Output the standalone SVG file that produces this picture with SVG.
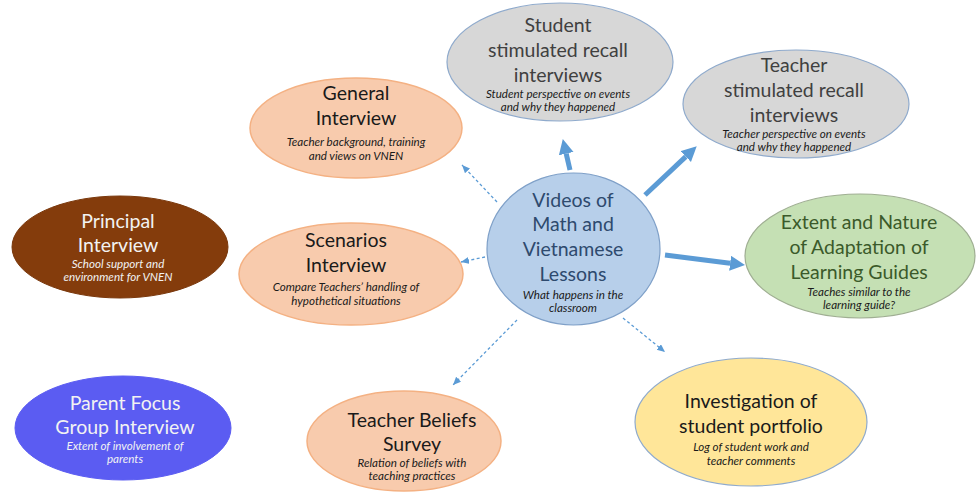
<svg xmlns="http://www.w3.org/2000/svg" width="980" height="499" viewBox="0 0 980 499">
<style>
  text { font-family: Lato, "Liberation Sans", sans-serif; text-anchor: middle; }
  .t { font-size: 19.5px; }
  .s { font-size: 11.6px; font-style: italic; }
  .gray { fill: #D7D7D7; stroke: #8FAACC; stroke-width: 1.2; }
  .orange { fill: #F8CBAD; stroke: #F4B183; stroke-width: 1.5; }
  .brown { fill: #843C0C; stroke: #7A380C; stroke-width: 1; }
  .violet { fill: #5B5CF2; stroke: #5B5CF2; stroke-width: 1; }
  .green { fill: #C5E0B4; stroke: #9FAE92; stroke-width: 1.2; }
  .yellow { fill: #FFE699; stroke: #8FAACC; stroke-width: 1.2; }
  .center { fill: #B7CFEA; stroke: #7FA0C8; stroke-width: 1.2; }
  .thick { stroke: #5B9BD5; stroke-width: 5; fill: none; }
  .dot { stroke: #5B9BD5; stroke-width: 1.3; stroke-dasharray: 3 2.5; fill: none; }
</style>
<defs>
  <marker id="big" markerUnits="userSpaceOnUse" markerWidth="16" markerHeight="16" refX="0" refY="7.5" orient="auto">
    <path d="M0,0 L15,7.5 L0,15 z" fill="#5B9BD5"/>
  </marker>
  <marker id="small" markerUnits="userSpaceOnUse" markerWidth="9" markerHeight="8" refX="8" refY="3.5" orient="auto">
    <path d="M0,0 L8,3.5 L0,7 z" fill="#5B9BD5"/>
  </marker>
</defs>

<g id="connectors">
  <line class="thick" x1="570" y1="170" x2="566.2" y2="153.6" marker-end="url(#big)"/>
  <line class="thick" x1="645" y1="195" x2="685.8" y2="156.6" marker-end="url(#big)"/>
  <line class="thick" x1="665" y1="255" x2="730.1" y2="263.2" marker-end="url(#big)"/>
  <line class="dot" x1="497" y1="202" x2="462" y2="165" marker-end="url(#small)"/>
  <line class="dot" x1="485" y1="257" x2="461" y2="262" marker-end="url(#small)"/>
  <line class="dot" x1="517" y1="320" x2="453" y2="385" marker-end="url(#small)"/>
  <line class="dot" x1="623" y1="318" x2="665" y2="352" marker-end="url(#small)"/>
</g>

<g id="student">
  <ellipse class="gray" cx="560" cy="62" rx="113" ry="59"/>
  <text class="t" fill="#404040"><tspan x="558" y="32">Student</tspan><tspan x="558" y="57">stimulated recall</tspan><tspan x="558" y="82">interviews</tspan></text>
  <text class="s" fill="#1A1A1A"><tspan x="558" y="98">Student perspective on events</tspan><tspan x="558" y="111">and why they happened</tspan></text>
</g>

<g id="teacher">
  <ellipse class="gray" cx="796" cy="104" rx="113" ry="54"/>
  <text class="t" fill="#404040"><tspan x="794" y="72">Teacher</tspan><tspan x="794" y="97">stimulated recall</tspan><tspan x="794" y="122">interviews</tspan></text>
  <text class="s" fill="#1A1A1A"><tspan x="794" y="138">Teacher perspective on events</tspan><tspan x="794" y="151">and why they happened</tspan></text>
</g>

<g id="general">
  <ellipse class="orange" cx="356" cy="128" rx="106" ry="50"/>
  <text class="t" fill="#1A1A1A"><tspan x="356" y="100">General</tspan><tspan x="356" y="125">Interview</tspan></text>
  <text class="s" fill="#1A1A1A"><tspan x="356" y="146">Teacher background, training</tspan><tspan x="356" y="160">and views on VNEN</tspan></text>
</g>

<g id="principal">
  <ellipse class="brown" cx="120" cy="247" rx="108" ry="51"/>
  <text class="t" fill="#F2F2F2"><tspan x="118" y="228">Principal</tspan><tspan x="118" y="252">Interview</tspan></text>
  <text class="s" fill="#F2F2F2"><tspan x="118" y="268">School support and</tspan><tspan x="118" y="281">environment for VNEN</tspan></text>
</g>

<g id="scenarios">
  <ellipse class="orange" cx="351" cy="274" rx="112" ry="51"/>
  <text class="t" fill="#1A1A1A"><tspan x="346" y="247">Scenarios</tspan><tspan x="346" y="272">Interview</tspan></text>
  <text class="s" fill="#1A1A1A"><tspan x="346" y="291">Compare Teachers’ handling of</tspan><tspan x="346" y="305">hypothetical situations</tspan></text>
</g>

<g id="videos">
  <ellipse class="center" cx="573.5" cy="249" rx="86.5" ry="76"/>
  <text class="t" fill="#2E4A6E"><tspan x="573" y="207">Videos of</tspan><tspan x="573" y="231">Math and</tspan><tspan x="573" y="256">Vietnamese</tspan><tspan x="573" y="281">Lessons</tspan></text>
  <text class="s" fill="#1A1A1A"><tspan x="573" y="299">What happens in the</tspan><tspan x="573" y="312">classroom</tspan></text>
</g>

<g id="extent">
  <ellipse class="green" cx="860" cy="256" rx="115" ry="62"/>
  <text class="t" fill="#3B5A2A"><tspan x="859" y="229">Extent and Nature</tspan><tspan x="859" y="254">of Adaptation of</tspan><tspan x="859" y="279">Learning Guides</tspan></text>
  <text class="s" fill="#1A1A1A"><tspan x="859" y="296">Teaches similar to the</tspan><tspan x="859" y="309">learning guide?</tspan></text>
</g>

<g id="parent">
  <ellipse class="violet" cx="123" cy="428" rx="108" ry="52"/>
  <text class="t" fill="#F2F2F2"><tspan x="125" y="410">Parent Focus</tspan><tspan x="125" y="434">Group Interview</tspan></text>
  <text class="s" fill="#F2F2F2"><tspan x="125" y="450">Extent of involvement of</tspan><tspan x="125" y="463">parents</tspan></text>
</g>

<g id="beliefs">
  <ellipse class="orange" cx="404" cy="441" rx="97" ry="50"/>
  <text class="t" fill="#1A1A1A"><tspan x="412" y="427">Teacher Beliefs</tspan><tspan x="412" y="451">Survey</tspan></text>
  <text class="s" fill="#1A1A1A"><tspan x="412" y="467">Relation of beliefs with</tspan><tspan x="412" y="480">teaching practices</tspan></text>
</g>

<g id="investigation">
  <ellipse class="yellow" cx="751" cy="422" rx="116" ry="64"/>
  <text class="t" fill="#1A1A1A"><tspan x="751" y="408">Investigation of</tspan><tspan x="751" y="433">student portfolio</tspan></text>
  <text class="s" fill="#1A1A1A"><tspan x="751" y="451">Log of student work and</tspan><tspan x="751" y="465">teacher comments</tspan></text>
</g>
</svg>
